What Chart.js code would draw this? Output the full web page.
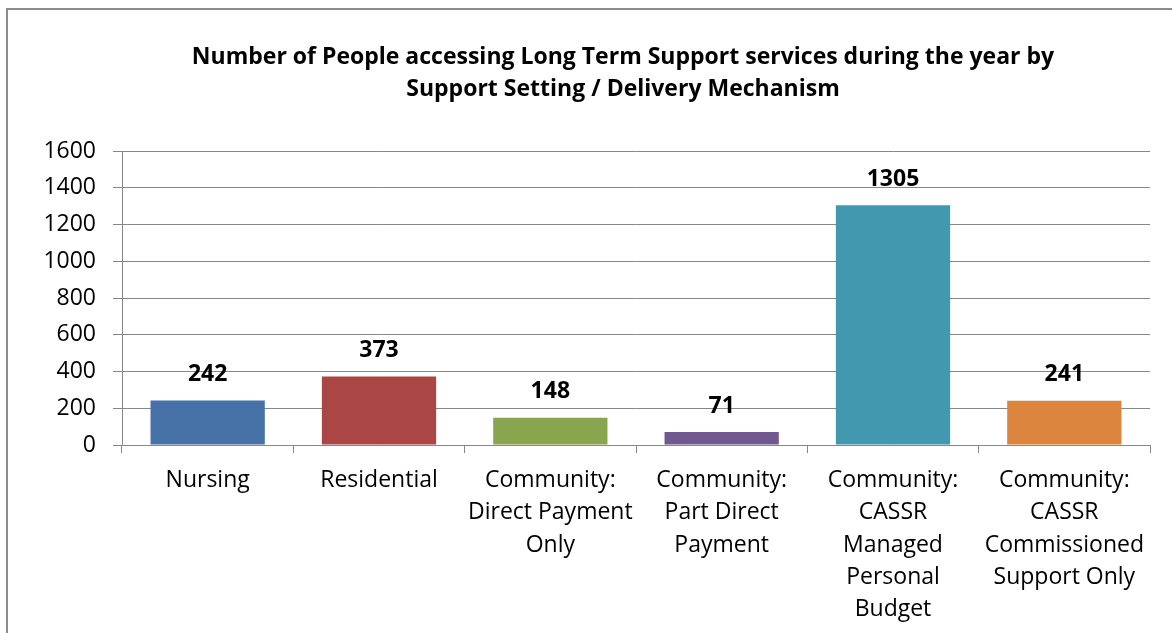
<!DOCTYPE html>
<html>
<head>
<meta charset="utf-8">
<script src="https://cdn.jsdelivr.net/npm/chart.js@4"></script>
<style>
    html, body { margin: 0; padding: 0; background: #fff; overflow: hidden; }
    #wrap { position: relative; width: 1172px; height: 633px; }
    #frame { position: absolute; left: 6px; top: 8px; width: 1200px; height: 700px; border: 2px solid #8c8c8c; box-sizing: border-box; }
    #chart { position: absolute; left: 0; top: 0; }
</style>
</head>
<body>
<div id="wrap">
    <div id="frame"></div>
    <canvas id="chart" width="1172" height="633"></canvas>
</div>
<script>
'use strict';

// タイトル
const TITLE_LINES = [
    'Number of People accessing Long Term Support services during the year by',
    'Support Setting / Delivery Mechanism'
];
// カテゴリ
const categories = [
    ['Nursing'],
    ['Residential'],
    ['Community:', 'Direct Payment', 'Only'],
    ['Community:', 'Part Direct', 'Payment'],
    ['Community:', 'CASSR', 'Managed', 'Personal', 'Budget'],
    ['Community:', 'CASSR', 'Commissioned', 'Support Only']
];
// 値
const peopleCounts = [242, 373, 148, 71, 1305, 241];
// バーの色
const barColors = ['#4672a7', '#aa4644', '#89a64e', '#71588f', '#4298af', '#db843d'];
// Y軸の目盛
const Y_MIN = 0;
const Y_MAX = 1600;
const Y_STEP = 200;

const FONT = "'Open Sans', 'Noto Sans', sans-serif";
const GRID_COLOR = '#878787';

Chart.defaults.font.family = FONT;
Chart.defaults.color = '#000';

/**
 * タイトルを描くプラグイン（外枠の中央に合わせる）
 */
const chartTitle = {
    id: 'chartTitle',
    afterDraw(chart) {
        const ctx = chart.ctx;
        ctx.save();
        ctx.font = `bold 23px ${FONT}`;
        ctx.fillStyle = '#000';
        ctx.textAlign = 'center';
        ctx.textBaseline = 'middle';
        TITLE_LINES.forEach((line, i) => {
            ctx.fillText(line, 623, 57 + i * 32);
        });
        ctx.restore();
    }
};

/**
 * バーの上に値を描くプラグイン
 */
const valueLabels = {
    id: 'valueLabels',
    afterDatasetsDraw(chart) {
        const ctx = chart.ctx;
        const meta = chart.getDatasetMeta(0);
        ctx.save();
        ctx.font = `bold 23px ${FONT}`;
        ctx.fillStyle = '#000';
        ctx.textAlign = 'center';
        ctx.textBaseline = 'middle';
        meta.data.forEach((bar, i) => {
            ctx.fillText(String(peopleCounts[i]), bar.x, bar.y - 26);
        });
        ctx.restore();
    }
};

const chart = new Chart(document.getElementById('chart'), {
    type: 'bar',
    data: {
        labels: categories,
        datasets: [{
            data: peopleCounts,
            backgroundColor: barColors,
            borderWidth: 0,
            categoryPercentage: 1,
            barPercentage: 0.667
        }]
    },
    options: {
        responsive: false,
        animation: false,
        events: [],
        layout: { padding: { left: 0, right: 22, top: 151, bottom: 0 } },
        plugins: {
            legend: { display: false },
            tooltip: { enabled: false },
            title: { display: false }
        },
        scales: {
            x: {
                grid: {
                    drawOnChartArea: false,
                    drawTicks: true,
                    tickLength: 8,
                    color: GRID_COLOR,
                    offset: true
                },
                border: { color: GRID_COLOR, width: 1 },
                ticks: {
                    autoSkip: false,
                    maxRotation: 0,
                    minRotation: 0,
                    padding: 11,
                    font: { size: 23, lineHeight: 1.41 }
                },
                afterFit(scale) { scale.height = 188; }
            },
            y: {
                min: Y_MIN,
                max: Y_MAX,
                ticks: {
                    stepSize: Y_STEP,
                    padding: 17,
                    font: { size: 23 },
                    callback: value => String(value)
                },
                grid: {
                    color: GRID_COLOR,
                    tickLength: 9
                },
                border: { color: GRID_COLOR, width: 1 },
                afterFit(scale) { scale.width = 122; }
            }
        }
    },
    plugins: [valueLabels, chartTitle]
});
</script>
</body>
</html>
